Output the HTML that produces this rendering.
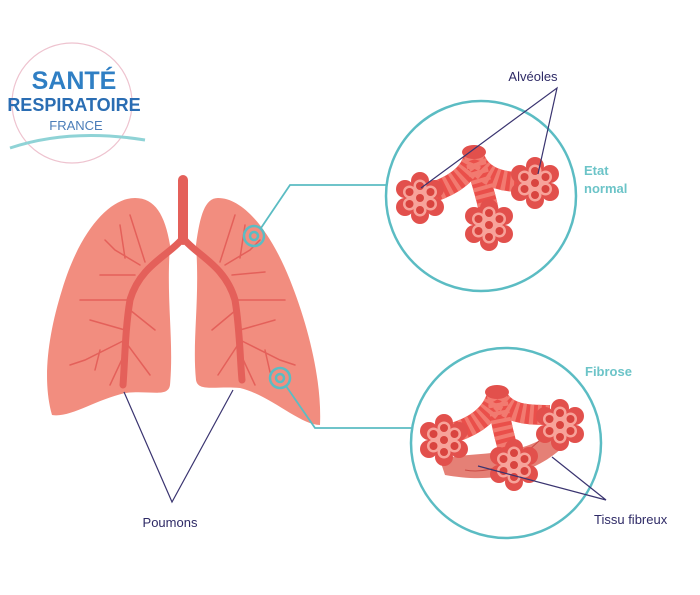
<!DOCTYPE html>
<html><head><meta charset="utf-8"><style>
html,body{margin:0;padding:0;background:#fff;width:700px;height:595px;overflow:hidden}
svg{display:block}
text{font-family:"Liberation Sans",sans-serif}
</style></head><body>
<svg width="700" height="595" viewBox="0 0 700 595">
<defs>
<g id="clu">
 <g fill="#e2504c">
  <circle cx="0" cy="-17" r="9"/><circle cx="15" cy="-9" r="9"/><circle cx="15" cy="9" r="9"/>
  <circle cx="0" cy="17" r="9"/><circle cx="-15" cy="9" r="9"/><circle cx="-15" cy="-9" r="9"/>
  <circle cx="0" cy="0" r="16"/>
 </g>
 <g fill="#f7a39a">
  <circle cx="0" cy="-12" r="6.5"/><circle cx="10.5" cy="-6" r="6.5"/><circle cx="10.5" cy="6" r="6.5"/>
  <circle cx="0" cy="12" r="6.5"/><circle cx="-10.5" cy="6" r="6.5"/><circle cx="-10.5" cy="-6" r="6.5"/>
  <circle cx="0" cy="0" r="9"/>
 </g>
 <g fill="#d9443f">
  <circle cx="0" cy="-12" r="4"/><circle cx="10.5" cy="-6" r="4"/><circle cx="10.5" cy="6" r="4"/>
  <circle cx="0" cy="12" r="4"/><circle cx="-10.5" cy="6" r="4"/><circle cx="-10.5" cy="-6" r="4"/>
  <circle cx="0" cy="0" r="4"/>
 </g>
</g>
</defs>

<!-- logo -->
<circle cx="72" cy="103" r="60" fill="none" stroke="#eec3cf" stroke-width="1.2"/>
<path d="M10 148 Q70 128 145 140" fill="none" stroke="#8fd3d6" stroke-width="3"/>
<text x="74" y="89" text-anchor="middle" font-size="25" font-weight="bold" fill="#2f7fc4">SANTÉ</text>
<text x="74" y="111" text-anchor="middle" font-size="18" font-weight="bold" fill="#2a6db3">RESPIRATOIRE</text>
<text x="76" y="130" text-anchor="middle" font-size="13" fill="#4b7db8">FRANCE</text>

<!-- lungs -->
<path d="M135 198 C110 198 80 230 62 290 C48 335 42 380 52 415 C70 418 95 400 125 393 C150 390 168 398 170 385 C174 340 166 300 170 245 C165 215 155 198 135 198Z" fill="#f28d7f"/>
<path d="M218 198 C243 198 270 230 290 280 C308 325 322 380 320 425 C300 425 270 395 240 388 C215 386 198 392 196 380 C192 340 200 300 196 245 C200 215 205 198 218 198Z" fill="#f28d7f"/>
<g stroke="#e4605a" fill="none" stroke-linecap="round">
 <path d="M183 180 L183 240" stroke-width="10"/>
 <path d="M183 238 C170 255 140 265 130 300 C125 330 125 360 123 385" stroke-width="7"/>
 <path d="M183 238 C196 255 225 265 235 300 C240 330 240 360 242 380" stroke-width="7"/>
 <g stroke-width="1.5">
  <path d="M140 265 L115 250 L105 240 M125 258 L120 225 M135 275 L100 275 M130 300 L80 300 M125 330 L90 320 M125 340 L85 360 L70 365 M100 350 L95 370 M124 355 L110 385 M124 340 L150 375 M130 310 L155 330 M145 262 L130 215"/>
  <path d="M225 265 L250 250 L260 240 M240 258 L245 225 M232 275 L265 272 M235 300 L285 300 M240 330 L275 320 M240 340 L280 360 L295 365 M265 350 L270 372 M241 355 L255 385 M241 340 L218 375 M236 310 L212 330 M220 262 L235 215"/>
 </g>
</g>
<!-- markers -->
<g fill="none" stroke="#5bbcc3">
 <circle cx="254" cy="236" r="10" stroke-width="2.5"/><circle cx="254" cy="236" r="4" stroke-width="2.5"/>
 <circle cx="280" cy="378" r="10" stroke-width="2.5"/><circle cx="280" cy="378" r="4" stroke-width="2.5"/>
 <polyline points="261,228 290,185 386,185" stroke-width="1.8"/>
 <polyline points="286,386 315,428 412,428" stroke-width="1.8"/>
 <circle cx="481" cy="196" r="95" stroke-width="2.5"/>
 <circle cx="506" cy="443" r="95" stroke-width="2.5"/>
</g>

<!-- normal state -->
<g stroke="#ea4f4a" fill="none" stroke-width="20">
 <path d="M474 155 C470 180 440 190 425 195"/>
 <path d="M474 155 C480 180 510 185 535 180"/>
 <path d="M474 155 C480 180 488 200 490 220"/>
</g>
<g stroke="#f27a70" fill="none" stroke-width="20" stroke-dasharray="4 4">
 <path d="M474 155 C470 180 440 190 425 195"/>
 <path d="M474 155 C480 180 510 185 535 180"/>
 <path d="M474 155 C480 180 488 200 490 220"/>
</g>
<ellipse cx="474" cy="152" rx="12" ry="7" fill="#e2504c"/>
<use href="#clu" x="420" y="198"/>
<use href="#clu" x="535" y="183"/>
<use href="#clu" x="489" y="225"/>

<!-- fibrosis -->
<path d="M440 460 C470 450 520 460 555 430 L565 445 C540 470 500 485 445 475Z" fill="#e06a5e" opacity="0.85"/>
<path d="M465 470 C490 475 520 460 540 440" stroke="#c94a44" fill="none" stroke-width="1"/>
<g stroke="#ea4f4a" fill="none" stroke-width="20">
 <path d="M497 395 C490 420 465 430 445 435"/>
 <path d="M497 395 C505 415 530 415 550 415"/>
 <path d="M497 395 C500 420 505 440 510 455"/>
</g>
<g stroke="#f27a70" fill="none" stroke-width="20" stroke-dasharray="4 4">
 <path d="M497 395 C490 420 465 430 445 435"/>
 <path d="M497 395 C505 415 530 415 550 415"/>
 <path d="M497 395 C500 420 505 440 510 455"/>
</g>
<ellipse cx="497" cy="392" rx="12" ry="7" fill="#e2504c"/>
<use href="#clu" x="444" y="440"/>
<use href="#clu" x="560" y="425"/>
<use href="#clu" x="514" y="465"/>

<!-- labels & leaders -->
<g stroke="#3a3470" stroke-width="1.2" fill="none">
 <polyline points="124,392 172,502 233,390"/>
 <polyline points="421,188 557,88 538,174"/>
 <polyline points="478,466 606,500 552,457"/>
</g>
<text x="533" y="81" text-anchor="middle" font-size="13" fill="#2e2a66">Alvéoles</text>
<text x="170" y="527" text-anchor="middle" font-size="13" fill="#2e2a66">Poumons</text>
<text x="594" y="524" font-size="13" fill="#2e2a66">Tissu fibreux</text>
<text x="584" y="175" font-size="13" font-weight="bold" fill="#6cc4c8">Etat</text>
<text x="584" y="193" font-size="13" font-weight="bold" fill="#6cc4c8">normal</text>
<text x="585" y="376" font-size="13" font-weight="bold" fill="#6cc4c8">Fibrose</text>
</svg>
</body></html>
